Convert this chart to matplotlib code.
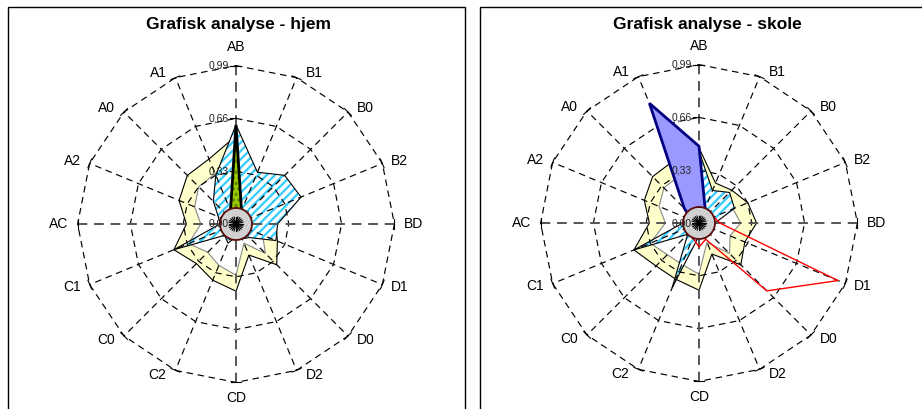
import numpy as np
import matplotlib
matplotlib.use("Agg")
import matplotlib.pyplot as plt
from matplotlib.patches import Rectangle

plt.rcParams['font.family'] = ['Liberation Sans', 'DejaVu Sans']
plt.rcParams['hatch.linewidth'] = 1.6

# ---------------- data ----------------
categories = ["AB", "B1", "B0", "B2", "BD", "D1", "D0", "D2",
              "CD", "C2", "C0", "C1", "AC", "A2", "A0", "A1"]
ring_values = [0.33, 0.66, 0.99]
ring_labels = ["0,00", "0,33", "0,66", "0,99"]
titles = ["Grafisk analyse - hjem", "Grafisk analyse - skole"]

# home chart
hjem_band_outer = [0.55, 0.30, 0.30, 0.30, 0.25, 0.28, 0.36, 0.21, 0.42, 0.38, 0.35, 0.42, 0.31, 0.385, 0.43, 0.44]
hjem_band_inner = [0.45, 0.20, 0.20, 0.20, 0.16, 0.18, 0.26, 0.13, 0.32, 0.28, 0.25, 0.32, 0.22, 0.28, 0.33, 0.34]
hjem_cyan = [0.62, 0.35, 0.43, 0.44, 0.26, 0.27, 0.12, 0.10, 0.08, 0.13, 0.10, 0.42, 0.10, 0.12, 0.20, 0.33]
hjem_green = [0.62, 0.09, 0.05, 0.05, 0.05, 0.05, 0.05, 0.05, 0.05, 0.05, 0.05, 0.05, 0.05, 0.05, 0.05, 0.09]

# school chart
skole_band_outer = [0.47, 0.27, 0.29, 0.33, 0.36, 0.31, 0.37, 0.21, 0.42, 0.38, 0.38, 0.44, 0.31, 0.37, 0.41, 0.42]
skole_band_inner = [0.37, 0.18, 0.19, 0.23, 0.26, 0.21, 0.27, 0.13, 0.32, 0.28, 0.28, 0.33, 0.21, 0.27, 0.31, 0.32]
skole_cyan = [0.45, 0.22, 0.27, 0.24, 0.10, 0.08, 0.05, 0.08, 0.08, 0.44, 0.10, 0.44, 0.10, 0.08, 0.08, 0.10]
skole_blue = [0.48, 0.10, 0.05, 0.05, 0.05, 0.05, 0.05, 0.05, 0.05, 0.05, 0.05, 0.05, 0.05, 0.05, 0.13, 0.81]
skole_red = [0.05, 0.05, 0.05, 0.10, 0.13, 0.94, 0.60, 0.11, 0.15, 0.10, 0.05, 0.05, 0.05, 0.05, 0.05, 0.05]

# ---------------- layout ----------------
W, H = 922, 409
SCALE = 160.0          # px per unit
RMAX = 1.2
HUB_R = 0.10
PT = 0.72              # points per pixel at 100 dpi
fig = plt.figure(figsize=(W / 100, H / 100), dpi=100)
fig.patch.set_facecolor("white")

n = len(categories)
theta = np.arange(n) * 2 * np.pi / n


def closed(v):
    v = list(v)
    return np.array(v + v[:1])


th_c = closed(theta)


def make_ax(cx, cy_top):
    R = RMAX * SCALE
    cy = H - cy_top
    ax = fig.add_axes([(cx - R) / W, (cy - R) / H, 2 * R / W, 2 * R / H], projection="polar")
    ax.set_theta_zero_location("N")
    ax.set_theta_direction(-1)
    ax.set_ylim(0, RMAX)
    ax.axis("off")
    return ax


def draw_grid(ax):
    rout = ring_values[-1]
    for r in ring_values:
        ax.plot(th_c, [r] * (n + 1), color="black", lw=0.85, ls=(0, (5.5, 4)), zorder=1.5)
    for i, t in enumerate(theta):
        if i % 4 == 0:
            ax.plot([t, t], [0, rout], color="#555555", lw=1.4, ls=(0, (5, 3.5)), zorder=1.5)
        else:
            ax.plot([t, t], [0, rout], color="black", lw=0.85, ls=(0, (5.5, 4)), zorder=1.5)
        d = 0.03
        ax.plot([t - d, t + d], [rout, rout], color="black", lw=0.8, zorder=1.5)
    # value-axis ticks and labels
    for r, lab in zip([0.0] + ring_values, ring_labels):
        if r > 0:
            dt = np.arctan2(0.035, r)
            ax.plot([0, -dt], [r, np.hypot(r, 0.035)], color="black", lw=0.8, zorder=1.6)
        ax.annotate(lab, xy=(0, r), xytext=(-7 * PT, 0), textcoords="offset points",
                    ha="right", va="center", fontsize=7.5, color="#222222", zorder=4)
    # category labels
    for t, c in zip(theta, categories):
        s, co = np.sin(t), np.cos(t)
        if abs(s) < 1e-6:
            off = (0, 19 * PT if co > 0 else -16 * PT)
            ha = "center"
        else:
            off = (9 * PT * np.sign(s), 5 * co * PT)
            ha = "left" if s > 0 else "right"
        ax.annotate(c, xy=(t, rout), xytext=off, textcoords="offset points",
                    ha=ha, va="center", fontsize=10, zorder=4)


def draw_band(ax, outer, inner):
    ax.fill(th_c, closed(outer), facecolor="#FFFFCC", edgecolor="black", lw=0.8, zorder=1.0)
    ax.fill(th_c, closed(inner), facecolor="white", edgecolor="#888888", lw=0.8, zorder=1.1)


def draw_hatched(ax, vals):
    ax.fill(th_c, closed(vals), facecolor="white", edgecolor="#33CCFF", hatch="////", lw=0, zorder=1.2)
    ax.fill(th_c, closed(vals), fill=False, edgecolor="black", lw=0.8, zorder=1.25)


def draw_hub(ax):
    tt = np.linspace(0, 2 * np.pi, 90)
    ax.fill(tt, [HUB_R] * len(tt), facecolor="#EDEDED", edgecolor="#BBBBBB", hatch="......", lw=0, zorder=3)
    ax.plot(tt, [HUB_R] * len(tt), color="#5A0A0A", lw=1.3, zorder=3.05)
    for t in np.linspace(0, 2 * np.pi, 24, endpoint=False):
        ax.plot([t, t], [0, 0.045], color="black", lw=0.8, zorder=3.1)


# ---------- left chart ----------
axL = make_ax(236, 224)
draw_band(axL, hjem_band_outer, hjem_band_inner)
draw_hatched(axL, hjem_cyan)
draw_grid(axL)
axL.fill(th_c, closed(hjem_green), facecolor="#99CC00", edgecolor="#5E8000", hatch="...", lw=0, zorder=2.1)
axL.fill(th_c, closed(hjem_green), fill=False, edgecolor="black", lw=2, zorder=2.15)
draw_hub(axL)

# ---------- right chart ----------
axR = make_ax(699, 223)
draw_band(axR, skole_band_outer, skole_band_inner)
draw_hatched(axR, skole_cyan)
draw_grid(axR)
axR.fill(th_c, closed(skole_blue), facecolor="#9999FF", edgecolor="#000080", lw=2, zorder=2.0)
axR.plot(th_c, closed(skole_red), color="#FF0000", lw=1.0, zorder=2.2)
draw_hub(axR)

# ---------- frames and titles ----------
def px_rect(x0, y0_top, x1, y1_top):
    return Rectangle((x0 / W, 1 - y1_top / H), (x1 - x0) / W, (y1_top - y0_top) / H,
                     transform=fig.transFigure, fill=False, edgecolor="black", lw=1.0)


fig.add_artist(px_rect(8, 7, 465, 420))
fig.add_artist(px_rect(480, 7, 930, 420))
fig.text(238 / W, 1 - 24 / H, titles[0], ha="center", va="center", fontsize=12.5, fontweight="bold")
fig.text(707 / W, 1 - 24 / H, titles[1], ha="center", va="center", fontsize=12.5, fontweight="bold")

fig.savefig("out.png", dpi=100)
